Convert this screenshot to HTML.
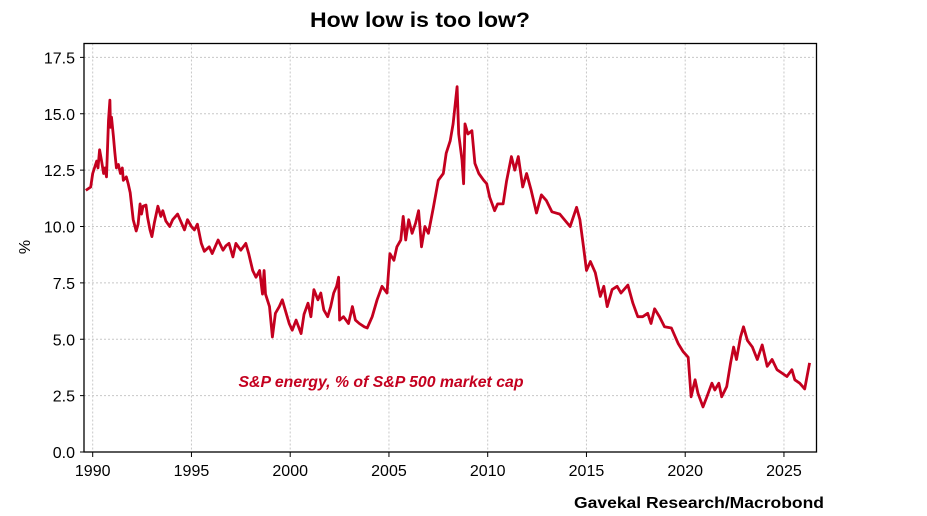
<!DOCTYPE html>
<html><head><meta charset="utf-8">
<style>
body{margin:0;background:#fff;width:927px;height:516px;overflow:hidden;font-family:"Liberation Sans",sans-serif;}
svg{display:block}
</style></head>
<body>
<svg id="chart" width="927" height="516">
<text x="420" y="27" text-anchor="middle" font-size="21" font-weight="bold" fill="#000" textLength="220" lengthAdjust="spacingAndGlyphs">How low is too low?</text>
<g id="grid"></g>
<g id="axes"></g>
<path id="series" fill="none" stroke="#c4001f" stroke-width="2.8" stroke-linejoin="round"></path>
<rect x="84" y="43.5" width="732.5" height="408.5" fill="none" stroke="#000" stroke-width="1.3"/>
<text x="381" y="387" text-anchor="middle" font-size="16" font-style="italic" font-weight="bold" fill="#c4001f" textLength="285" lengthAdjust="spacingAndGlyphs">S&amp;P energy, % of S&amp;P 500 market cap</text>
<text transform="translate(30,247) rotate(-90)" text-anchor="middle" font-size="16" fill="#000">%</text>
<text x="824" y="508" text-anchor="end" font-size="16" font-weight="bold" fill="#000" textLength="250" lengthAdjust="spacingAndGlyphs">Gavekal Research/Macrobond</text>
</svg>
<script>
const yTicks=[0,2.5,5,7.5,10,12.5,15,17.5];
const yTickLabels=["0.0","2.5","5.0","7.5","10.0","12.5","15.0","17.5"];
const xTicks=[1990,1995,2000,2005,2010,2015,2020,2025];
const years=[1989.65,1989.9,1990.0,1990.2,1990.27,1990.35,1990.45,1990.55,1990.63,1990.7,1990.8,1990.87,1990.9,1990.95,1991.05,1991.12,1991.2,1991.3,1991.4,1991.5,1991.55,1991.7,1991.8,1991.9,1992.05,1992.2,1992.3,1992.4,1992.47,1992.55,1992.7,1992.78,1992.9,1993.0,1993.12,1993.3,1993.45,1993.55,1993.7,1993.9,1994.05,1994.3,1994.45,1994.65,1994.8,1995.0,1995.15,1995.3,1995.5,1995.65,1995.9,1996.05,1996.35,1996.6,1996.75,1996.9,1997.1,1997.25,1997.5,1997.75,1997.9,1998.1,1998.27,1998.45,1998.6,1998.68,1998.75,1998.95,1999.1,1999.25,1999.45,1999.6,1999.8,1999.95,2000.1,2000.3,2000.55,2000.7,2000.9,2001.05,2001.2,2001.4,2001.55,2001.7,2001.9,2002.05,2002.2,2002.35,2002.45,2002.5,2002.7,2002.95,2003.15,2003.3,2003.5,2003.75,2003.9,2004.15,2004.4,2004.65,2004.9,2005.05,2005.25,2005.4,2005.6,2005.72,2005.85,2006.0,2006.17,2006.35,2006.5,2006.65,2006.82,2007.0,2007.25,2007.5,2007.75,2007.9,2008.1,2008.25,2008.45,2008.53,2008.7,2008.78,2008.85,2009.0,2009.2,2009.35,2009.55,2009.8,2009.95,2010.1,2010.35,2010.5,2010.78,2010.95,2011.2,2011.37,2011.55,2011.77,2011.97,2012.2,2012.47,2012.72,2012.97,2013.25,2013.65,2014.17,2014.5,2014.67,2014.85,2015.0,2015.2,2015.45,2015.7,2015.88,2016.05,2016.3,2016.55,2016.75,2017.1,2017.35,2017.6,2017.85,2018.1,2018.27,2018.45,2018.7,2018.95,2019.3,2019.65,2019.9,2020.15,2020.3,2020.5,2020.65,2020.9,2021.1,2021.35,2021.5,2021.7,2021.85,2022.1,2022.3,2022.45,2022.6,2022.8,2022.95,2023.15,2023.4,2023.65,2023.9,2024.15,2024.4,2024.65,2024.9,2025.15,2025.4,2025.55,2025.8,2026.05,2026.3];
const values=[11.6,11.75,12.35,12.9,12.6,13.4,12.9,12.35,12.6,12.2,14.7,15.6,14.4,14.85,14.0,13.3,12.6,12.75,12.35,12.6,12.05,12.2,11.9,11.5,10.3,9.8,10.1,11.0,10.55,10.9,10.95,10.4,9.85,9.55,10.15,10.9,10.45,10.7,10.25,10.0,10.3,10.55,10.25,9.85,10.3,10.0,9.85,10.1,9.25,8.9,9.1,8.8,9.4,8.95,9.15,9.25,8.65,9.25,8.95,9.25,8.8,8.05,7.75,8.05,7.0,8.05,7.0,6.45,5.1,6.15,6.45,6.75,6.15,5.7,5.4,5.85,5.25,6.1,6.6,6.0,7.2,6.75,7.05,6.3,6.0,6.45,7.05,7.35,7.75,5.85,6.0,5.7,6.45,5.85,5.7,5.55,5.5,6.0,6.75,7.35,7.05,8.8,8.5,9.1,9.4,10.45,9.4,10.3,9.7,10.15,10.7,9.1,10.0,9.7,10.85,12.05,12.35,13.25,13.8,14.55,16.2,14.1,12.95,11.9,14.55,14.1,14.25,12.8,12.35,12.05,11.9,11.3,10.7,11.0,11.0,12.0,13.1,12.5,13.1,11.75,12.35,11.6,10.6,11.4,11.15,10.65,10.55,10.0,10.85,10.3,9.1,8.05,8.45,7.95,6.9,7.35,6.45,7.2,7.35,7.05,7.4,6.6,6.0,6.0,6.15,5.7,6.35,6.0,5.55,5.5,4.8,4.45,4.2,2.45,3.2,2.6,2.0,2.45,3.05,2.75,3.05,2.45,2.9,3.95,4.65,4.1,5.1,5.55,4.95,4.65,4.1,4.75,3.8,4.1,3.65,3.5,3.35,3.65,3.2,3.05,2.8,3.95];
const X0=84,X1=816.5,Y0=452,YT=43.5;
function xScale(yr){return 92.7+(yr-1990)*19.75;}
function yScale(v){return 452-v*22.55;}
const NS="http://www.w3.org/2000/svg";
const grid=document.getElementById('grid'),axes=document.getElementById('axes');
yTicks.forEach((t,i)=>{
 const y=yScale(t);
 if(t>0){const l=document.createElementNS(NS,'line');
 
 
 l.setAttribute('x1',X0);l.setAttribute('x2',X1);l.setAttribute('y1',y);l.setAttribute('y2',y);
 l.setAttribute('stroke','#c8c8c8');l.setAttribute('stroke-dasharray','2,2');l.setAttribute('stroke-width','1');grid.appendChild(l);}
 const tk=document.createElementNS(NS,'line');
 
 
 tk.setAttribute('x1',X0-4);tk.setAttribute('x2',X0);tk.setAttribute('y1',y);tk.setAttribute('y2',y);tk.setAttribute('stroke','#000');axes.appendChild(tk);
 const tx=document.createElementNS(NS,'text');
 
 
 tx.setAttribute('x',X0-9);tx.setAttribute('y',y+6);tx.setAttribute('text-anchor','end');tx.setAttribute('font-size','16');
 tx.textContent=yTickLabels[i];axes.appendChild(tx);
});
xTicks.forEach(t=>{
 const x=xScale(t);
 const l=document.createElementNS(NS,'line');
 
 
 l.setAttribute('x1',x);l.setAttribute('x2',x);l.setAttribute('y1',YT);l.setAttribute('y2',Y0);
 l.setAttribute('stroke','#c8c8c8');l.setAttribute('stroke-dasharray','2,2');grid.appendChild(l);
 const tk=document.createElementNS(NS,'line');
 
 
 tk.setAttribute('x1',x);tk.setAttribute('x2',x);tk.setAttribute('y1',Y0);tk.setAttribute('y2',Y0+5);tk.setAttribute('stroke','#000');axes.appendChild(tk);
 const tx=document.createElementNS(NS,'text');
 
 
 tx.setAttribute('x',x);tx.setAttribute('y',Y0+24);tx.setAttribute('text-anchor','middle');tx.setAttribute('font-size','16');
 tx.textContent=t;axes.appendChild(tx);
});
let d='';
years.forEach((yr,i)=>{d+=(i?'L':'M')+xScale(yr).toFixed(1)+','+yScale(values[i]).toFixed(1);});
document.getElementById('series').setAttribute('d',d);
</script>
</body></html>
